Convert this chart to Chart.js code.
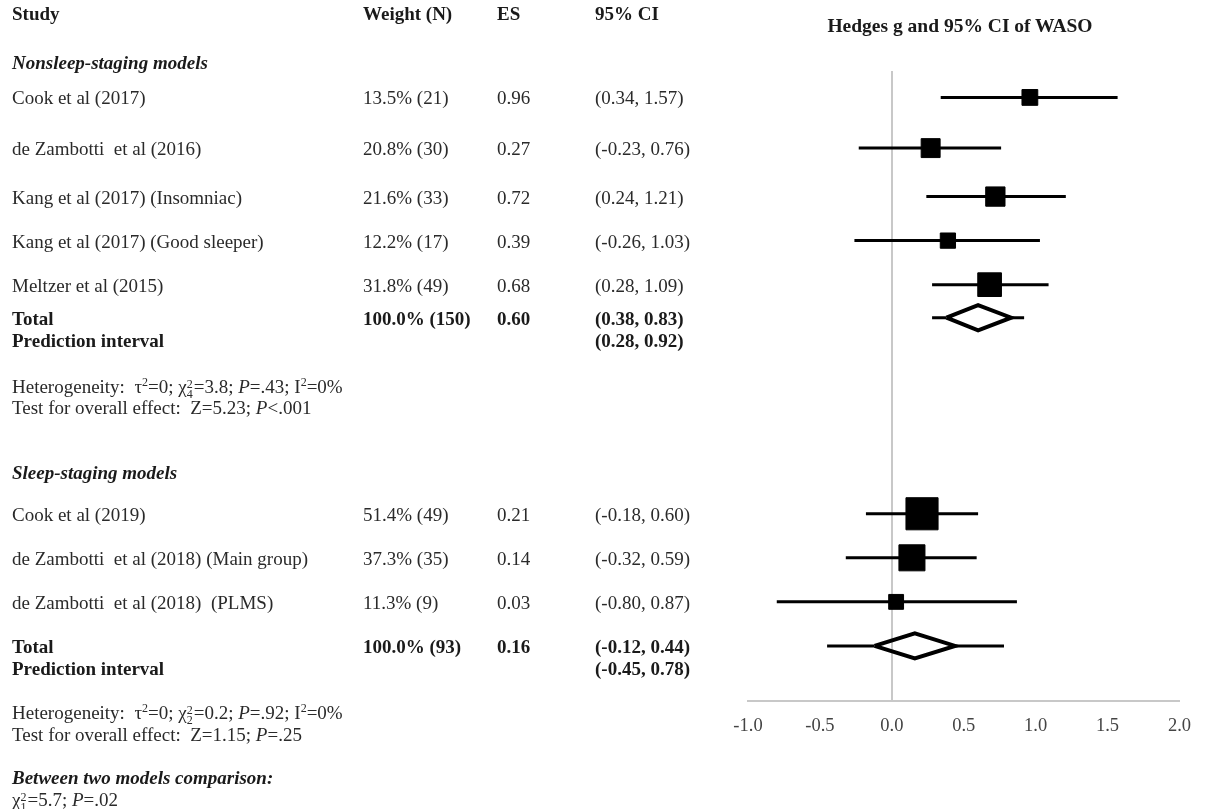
<!DOCTYPE html>
<html>
<head>
<meta charset="utf-8">
<script src="https://cdn.jsdelivr.net/npm/chart.js@4.4.1/dist/chart.umd.min.js"></script>
<style>
  body { margin: 0; background: #fff; }
  #wrap { position: relative; width: 1205px; height: 809px; }
  #labels { position: absolute; left: 0; top: 0; width: 1205px; height: 809px;
    font-family: "Liberation Serif", "Times New Roman", serif; font-size: 19px; color: #2a2a2a; }
  #labels div { position: absolute; white-space: pre; line-height: 1; transform: translateY(-50%); }
  .b { font-weight: bold; color: #1a1a1a; }
  .bi { font-weight: bold; font-style: italic; color: #1a1a1a; }
  sup { font-size: 12px; line-height: 0; }
  .ss { display: inline-block; vertical-align: -5px; font-size: 12px; line-height: 10px; margin-right: 1px; }
  .ss span { display: block; }
</style>
</head>
<body>
<div id="wrap">
  <canvas id="forest" width="1205" height="809"></canvas>
  <div id="labels"></div>
</div>
<script>
// study level data
const groupNames = ['Nonsleep-staging models', 'Sleep-staging models'];
const studyNames = [
  'Cook et al (2017)',
  'de Zambotti  et al (2016)',
  'Kang et al (2017) (Insomniac)',
  'Kang et al (2017) (Good sleeper)',
  'Meltzer et al (2015)',
  'Cook et al (2019)',
  'de Zambotti  et al (2018) (Main group)',
  'de Zambotti  et al (2018)  (PLMS)'
];
const weights = [13.5, 20.8, 21.6, 12.2, 31.8, 51.4, 37.3, 11.3];
const sampleN = [21, 30, 33, 17, 49, 49, 35, 9];
const es = [0.96, 0.27, 0.72, 0.39, 0.68, 0.21, 0.14, 0.03];
const ciLow = [0.34, -0.23, 0.24, -0.26, 0.28, -0.18, -0.32, -0.80];
const ciHigh = [1.57, 0.76, 1.21, 1.03, 1.09, 0.60, 0.59, 0.87];

// pooled results per group
const totalN = [150, 93];
const totalES = [0.60, 0.16];
const totalLow = [0.38, -0.12];
const totalHigh = [0.83, 0.44];
const predLow = [0.28, -0.45];
const predHigh = [0.92, 0.78];

// heterogeneity / tests
const hetTau2 = ['0', '0'];
const hetDf = ['4', '2'];
const hetChi2 = ['3.8', '0.2'];
const hetP = ['=.43', '=.92'];
const hetI2 = ['0%', '0%'];
const testZ = ['5.23', '1.15'];
const testP = ['<.001', '=.25'];
const compDf = '1';
const compChi2 = '5.7';
const compP = '=.02';

const xMin = -1.0, xMax = 2.0, xStep = 0.5;

// layout: row slots on the vertical scale (not data)
const studySlot = [1.2, 3.5, 5.7, 7.7, 9.7, 20.1, 22.1, 24.1];
const totalSlot = [11.2, 26.1];
const predTextSlot = [12.2, 27.08];
const groupSlot = [-0.42, 18.2];
const hetSlot = [14.4, 29.2];
const testSlot = [15.27, 30.1];
const headerSlot = -2.63;
const titleSlot = -2.05;
const betweenSlot = [32.05, 33.15];
const diamondHalf = 0.57;

const fmt = v => v.toFixed(2);
const ciText = (a, b) => '(' + fmt(a) + ', ' + fmt(b) + ')';

// datasets
const whiskers = [];
studyNames.forEach((n, i) => {
  whiskers.push({x: ciLow[i], y: studySlot[i]}, {x: ciHigh[i], y: studySlot[i]}, {x: null, y: null});
});
const predLines = [];
totalES.forEach((v, g) => {
  predLines.push({x: predLow[g], y: totalSlot[g]}, {x: totalLow[g], y: totalSlot[g]}, {x: null, y: null});
  predLines.push({x: totalHigh[g], y: totalSlot[g]}, {x: predHigh[g], y: totalSlot[g]}, {x: null, y: null});
});
const diamonds = [];
totalES.forEach((v, g) => {
  const y = totalSlot[g];
  diamonds.push({x: totalLow[g], y: y}, {x: v, y: y - diamondHalf}, {x: totalHigh[g], y: y},
    {x: v, y: y + diamondHalf}, {x: totalLow[g], y: y}, {x: null, y: null});
});
const squares = studyNames.map((n, i) => ({x: es[i], y: studySlot[i]}));
// square side grows with study weight
const squareRadius = weights.map(w => (10 + 0.43 * w) / Math.SQRT2);

const ctx = document.getElementById('forest').getContext('2d');
const chart = new Chart(ctx, {
  type: 'scatter',
  data: {
    datasets: [
      {type: 'line', data: predLines, borderColor: '#000', borderWidth: 3, pointRadius: 0, spanGaps: false, order: 4},
      {type: 'line', data: whiskers, borderColor: '#000', borderWidth: 3, pointRadius: 0, spanGaps: false, order: 3},
      {type: 'line', data: diamonds, borderColor: '#000', borderWidth: 4, borderJoinStyle: 'miter',
        pointRadius: 0, spanGaps: false, fill: false, order: 2},
      {data: squares, pointStyle: 'rect', pointRadius: squareRadius, pointHoverRadius: squareRadius,
        backgroundColor: '#000', borderColor: '#000', borderWidth: 1, order: 1}
    ]
  },
  options: {
    responsive: false,
    animation: false,
    events: [],
    layout: {padding: {left: 748, right: 12, top: 71, bottom: 68}},
    plugins: {legend: {display: false}, tooltip: {enabled: false}},
    scales: {
      x: {
        type: 'linear', min: xMin, max: xMax,
        afterFit: s => { s.height = 40; },
        border: {display: true, color: '#c8c8c8', width: 2},
        grid: {
          drawTicks: false,
          color: c => (c.tick && c.tick.value === 0) ? '#c8c8c8' : 'rgba(0,0,0,0)',
          lineWidth: 2
        },
        ticks: {
          stepSize: xStep, padding: 14, color: '#444',
          font: {family: '"Liberation Serif", "Times New Roman", serif', size: 18.5},
          callback: v => v.toFixed(1)
        }
      },
      y: {type: 'linear', min: 0, max: 28.6, reverse: true, display: false}
    }
  }
});

// table text, placed on the same vertical scale
const labels = document.getElementById('labels');
const yPx = s => chart.scales.y.getPixelForValue(s);
function put(slot, x, html, cls) {
  const d = document.createElement('div');
  d.style.left = x + 'px';
  d.style.top = yPx(slot) + 'px';
  if (cls) d.className = cls;
  d.innerHTML = html;
  labels.appendChild(d);
  return d;
}
const colStudy = 12, colWeight = 363, colES = 497, colCI = 595;

put(headerSlot, colStudy, 'Study', 'b');
put(headerSlot, colWeight, 'Weight (N)', 'b');
put(headerSlot, colES, 'ES', 'b');
put(headerSlot, colCI, '95% CI', 'b');
const t = put(titleSlot, 0, 'Hedges g and 95% CI of WASO', 'b');
t.style.left = '960px';
t.style.fontSize = '19.5px';
t.style.transform = 'translate(-50%, -50%)';

studyNames.forEach((n, i) => {
  put(studySlot[i], colStudy, n);
  put(studySlot[i], colWeight, weights[i].toFixed(1) + '% (' + sampleN[i] + ')');
  put(studySlot[i], colES, fmt(es[i]));
  put(studySlot[i], colCI, ciText(ciLow[i], ciHigh[i]));
});

groupNames.forEach((g, k) => {
  put(groupSlot[k], colStudy, g, 'bi');
  put(totalSlot[k], colStudy, 'Total', 'b');
  put(totalSlot[k], colWeight, '100.0% (' + totalN[k] + ')', 'b');
  put(totalSlot[k], colES, fmt(totalES[k]), 'b');
  put(totalSlot[k], colCI, ciText(totalLow[k], totalHigh[k]), 'b');
  put(predTextSlot[k], colStudy, 'Prediction interval', 'b');
  put(predTextSlot[k], colCI, ciText(predLow[k], predHigh[k]), 'b');
  put(hetSlot[k], colStudy, 'Heterogeneity:  \u03c4<sup>2</sup>=' + hetTau2[k] + '; \u03c7<span class="ss"><span>2</span><span>' +
    hetDf[k] + '</span></span>=' + hetChi2[k] + '; <i>P</i>' + hetP[k] + '; I<sup>2</sup>=' + hetI2[k]);
  put(testSlot[k], colStudy, 'Test for overall effect:  Z=' + testZ[k] + '; <i>P</i>' + testP[k]);
});

put(betweenSlot[0], colStudy, 'Between two models comparison:', 'bi');
put(betweenSlot[1], colStudy, '\u03c7<span class="ss"><span>2</span><span>' + compDf + '</span></span>=' + compChi2 + '; <i>P</i>' + compP);
</script>
</body>
</html>
